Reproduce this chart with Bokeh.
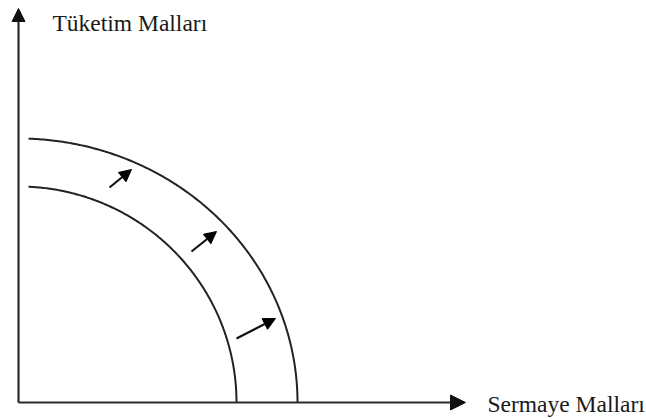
import numpy as np
from bokeh.plotting import figure
from bokeh.models import Range1d, Arrow, NormalHead, ColumnDataSource, Label
from bokeh.embed import file_html
from bokeh.resources import INLINE

# ---- data (pixel-like units, origin at the axes corner) ----
axis_x_len = 447          # length of horizontal axis (Sermaye Malları)
axis_y_len = 394          # length of vertical axis (Tüketim Malları)
x_label = "Sermaye Malları"
y_label = "Tüketim Malları"

# production possibility curves: x-intercept, y-intercept, start x
ppf_names = ["inner", "outer"]
ppf_x_intercept = [218, 279]
ppf_y_intercept = [216, 264]
ppf_start_x = [10, 10]

# outward shift arrows
shift_x_start = [91, 173, 218]
shift_y_start = [215, 151, 64]
shift_x_end = [113, 198, 257]
shift_y_end = [233, 171, 84]

W, H = 646, 419
p = figure(width=W, height=H, output_backend="svg", toolbar_location=None,
           x_range=Range1d(-18, 628), y_range=Range1d(-17, 402),
           min_border=0, outline_line_color=None)
p.xaxis.visible = False
p.yaxis.visible = False
p.grid.visible = False
p.background_fill_color = "white"
p.border_fill_color = "white"

# axes with arrowheads
axis_color = "#2a2a2a"
p.add_layout(Arrow(end=NormalHead(size=15, fill_color="#111111", line_color="#111111"),
                   x_start=0, y_start=0, x_end=axis_x_len, y_end=0,
                   line_width=2.2, line_color=axis_color))
p.add_layout(Arrow(end=NormalHead(size=13, fill_color="#111111", line_color="#111111"),
                   x_start=0, y_start=0, x_end=0, y_end=axis_y_len,
                   line_width=2.2, line_color=axis_color))

# curves
for a, b, x0 in zip(ppf_x_intercept, ppf_y_intercept, ppf_start_x):
    t0 = np.arccos(x0 / a)
    t = np.linspace(t0, 0, 200)
    p.line(a * np.cos(t), b * np.sin(t), line_width=2, line_color="#222222")

# shift arrows
src = ColumnDataSource(dict(x0=shift_x_start, y0=shift_y_start,
                            x1=shift_x_end, y1=shift_y_end))
p.add_layout(Arrow(end=NormalHead(size=12, fill_color="#000000", line_color="#000000"),
                   x_start="x0", y_start="y0", x_end="x1", y_end="y1",
                   source=src, line_width=2.2, line_color="#111111"))

# labels
font = "Liberation Serif"
p.add_layout(Label(x=34, y=380, text=y_label, text_font=font, text_font_size="23.5px",
                   text_color="#1a1a1a", text_baseline="alphabetic"))
p.add_layout(Label(x=469, y=-1, text=x_label, text_font=font, text_font_size="23.5px",
                   text_color="#1a1a1a", text_baseline="alphabetic"))

open("out.html", "w").write(file_html(p, INLINE))
